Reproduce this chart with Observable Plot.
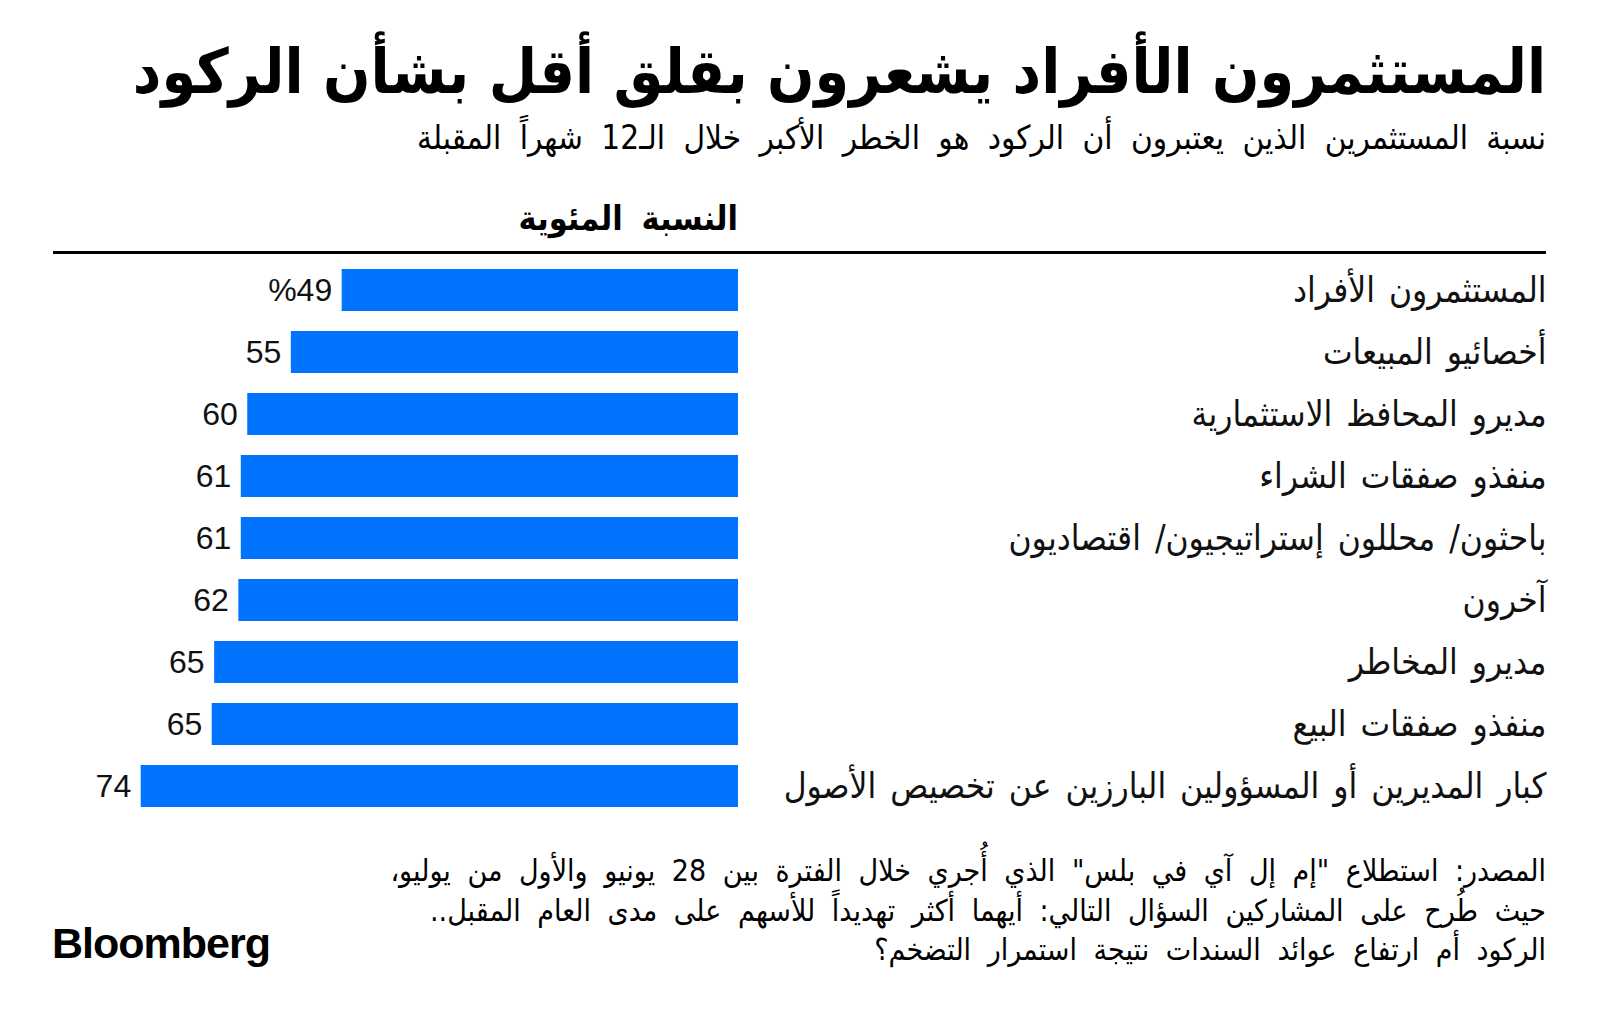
<!DOCTYPE html>
<html lang="ar">
<head>
<meta charset="utf-8">
<script src="https://cdn.jsdelivr.net/npm/d3@7"></script>
<script src="https://cdn.jsdelivr.net/npm/@observablehq/plot@0.6"></script>
<style>
  html, body { margin: 0; padding: 0; background: #fff; }
  body { width: 1600px; height: 1022px; position: relative; overflow: hidden; }
  .abs { position: absolute; }
  .ar { font-family: "DejaVu Sans Condensed", "DejaVu Sans"; direction: rtl; white-space: nowrap; color: #000; }
  #title { right: 54px; top: 32px; font-weight: bold; font-size: 62px; line-height: 80px; letter-spacing: -1px; }
  #subtitle { right: 54px; top: 116px; font-size: 33px; line-height: 44px; word-spacing: 9px; }
  #colhead { right: 862px; top: 196px; font-weight: bold; font-size: 34px; line-height: 44px; word-spacing: 8px; }
  #rule { left: 53px; top: 251px; width: 1493px; height: 3px; background: #000; }
  #chart { left: 0; top: 252px; }
  #chart svg { display: block; }
  #footer { right: 54px; top: 851px; font-size: 30px; line-height: 39.5px; text-align: right; word-spacing: 8px; }
  #logo { left: 52px; top: 919px; font-family: "Liberation Sans", Arial, sans-serif; font-weight: bold; font-size: 43px; letter-spacing: -1px; color: #000; }
</style>
</head>
<body>
<div id="title" class="abs ar"></div>
<div id="subtitle" class="abs ar"></div>
<div id="colhead" class="abs ar"></div>
<div id="rule" class="abs"></div>
<div id="chart" class="abs"></div>
<div id="footer" class="abs ar"></div>
<div id="logo" class="abs">Bloomberg</div>
<script>
const titleText = "المستثمرون الأفراد يشعرون بقلق أقل بشأن الركود";
const subtitleText = "نسبة المستثمرين الذين يعتبرون أن الركود هو الخطر الأكبر خلال الـ12 شهراً المقبلة";
const columnHeader = "النسبة المئوية";
const categories = [
  "المستثمرون الأفراد",
  "أخصائيو المبيعات",
  "مديرو المحافظ الاستثمارية",
  "منفذو صفقات الشراء",
  "باحثون/ محللون إستراتيجيون/ اقتصاديون",
  "آخرون",
  "مديرو المخاطر",
  "منفذو صفقات البيع",
  "كبار المديرين أو المسؤولين البارزين عن تخصيص الأصول"
];
// bar lengths
const values = [49.1, 55.4, 60.8, 61.6, 61.6, 61.9, 64.9, 65.2, 74.0];
// value labels as printed on the chart
const valueLabels = ["%49", "55", "60", "61", "61", "62", "65", "65", "74"];
const footerLines = [
  "المصدر: استطلاع \"إم إل آي في بلس\" الذي أُجري خلال الفترة بين 28 يونيو والأول من يوليو،",
  "حيث طُرح على المشاركين السؤال التالي: أيهما أكثر تهديداً للأسهم على مدى العام المقبل..",
  "الركود أم ارتفاع عوائد السندات نتيجة استمرار التضخم؟"
];

document.getElementById("title").textContent = titleText;
document.getElementById("subtitle").textContent = subtitleText;
document.getElementById("colhead").textContent = columnHeader;
document.getElementById("footer").innerHTML = footerLines.map(l => `<div>${l}</div>`).join("");

const data = categories.map((c, i) => ({cat: c, value: values[i], label: valueLabels[i]}));

const chart = Plot.plot({
  width: 1600,
  height: 580,
  marginLeft: 0,
  marginRight: 54,
  marginTop: 0,
  marginBottom: 0,
  x: {domain: [0, 74], range: [738, 140.7], axis: null},
  y: {domain: categories, range: [4.15, 568.45], paddingInner: 0.322, paddingOuter: 0.161, axis: null},
  style: "background: transparent; word-spacing: 4px;",
  marks: [
    Plot.barX(data, {x: "value", y: "cat", fill: "#0073ff"}),
    Plot.text(data, {x: "value", y: "cat", text: "label", textAnchor: "end", dx: -10, fontSize: 32, fontFamily: "Liberation Sans, Arial, sans-serif", fill: "#111"}),
    Plot.text(data, {y: "cat", text: "cat", frameAnchor: "right", textAnchor: "end", fontSize: 35, fontFamily: "DejaVu Sans Condensed, DejaVu Sans", fill: "#111"})
  ]
});
document.getElementById("chart").appendChild(chart);
</script>
</body>
</html>
